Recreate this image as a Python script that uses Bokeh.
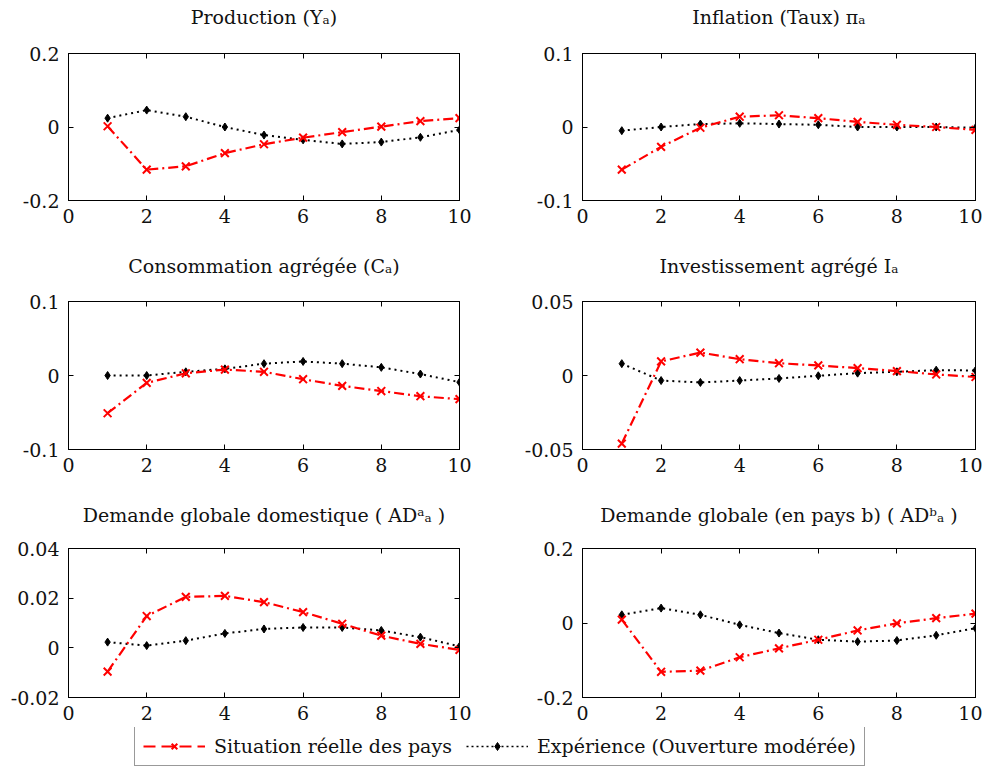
from bokeh.plotting import figure
from bokeh.models import Range1d, FixedTicker, LinearAxis, Legend, LegendItem
from bokeh.layouts import column, row
from bokeh.embed import file_html
from bokeh.resources import INLINE

# ---------------- data ----------------
periods = [1, 2, 3, 4, 5, 6, 7, 8, 9, 10]
x_ticks = [0, 2, 4, 6, 8, 10]
x_tick_labels = ["0", "2", "4", "6", "8", "10"]

series_red_name = "Situation réelle des pays"
series_black_name = "Expérience (Ouverture modérée)"

titles = [
    "Production (Yₐ)",
    "Inflation (Taux) πₐ",
    "Consommation agrégée (Cₐ)",
    "Investissement agrégé Iₐ",
    "Demande globale domestique ( ADᵃₐ )",
    "Demande globale (en pays b) ( ADᵇₐ )",
]

prod_red = [0.002, -0.116, -0.107, -0.071, -0.047, -0.029, -0.014, 0.001, 0.016, 0.024]
prod_black = [0.024, 0.046, 0.028, 0.000, -0.022, -0.035, -0.046, -0.041, -0.028, -0.008]

infl_red = [-0.058, -0.027, -0.001, 0.014, 0.016, 0.012, 0.007, 0.003, 0.000, -0.004]
infl_black = [-0.005, 0.000, 0.004, 0.005, 0.004, 0.003, 0.000, 0.000, 0.000, -0.001]

cons_red = [-0.051, -0.010, 0.003, 0.008, 0.005, -0.005, -0.014, -0.021, -0.028, -0.032]
cons_black = [0.000, 0.000, 0.005, 0.009, 0.016, 0.019, 0.016, 0.011, 0.002, -0.009]

inv_red = [-0.046, 0.0095, 0.0155, 0.011, 0.0083, 0.0068, 0.005, 0.003, 0.0007, -0.001]
inv_black = [0.008, -0.0034, -0.0047, -0.0034, -0.002, -0.0002, 0.0016, 0.0025, 0.0036, 0.0034]

add_red = [-0.0096, 0.0128, 0.0205, 0.0209, 0.0184, 0.0144, 0.0097, 0.0049, 0.0016, -0.0008]
add_black = [0.0023, 0.0009, 0.0029, 0.0058, 0.0076, 0.0082, 0.0082, 0.0070, 0.0043, 0.0006]

adb_red = [0.009, -0.131, -0.128, -0.092, -0.068, -0.045, -0.020, -0.001, 0.013, 0.025]
adb_black = [0.022, 0.040, 0.022, -0.005, -0.027, -0.045, -0.050, -0.047, -0.033, -0.014]

y_ticks = [
    [-0.2, 0, 0.2],
    [-0.1, 0, 0.1],
    [-0.1, 0, 0.1],
    [-0.05, 0, 0.05],
    [-0.02, 0, 0.02, 0.04],
    [-0.2, 0, 0.2],
]
y_tick_labels = [
    ["-0.2", "0", "0.2"],
    ["-0.1", "0", "0.1"],
    ["-0.1", "0", "0.1"],
    ["-0.05", "0", "0.05"],
    ["-0.02", "0", "0.02", "0.04"],
    ["-0.2", "0", "0.2"],
]
red_series = [prod_red, infl_red, cons_red, inv_red, add_red, adb_red]
black_series = [prod_black, infl_black, cons_black, inv_black, add_black, adb_black]

# ---------------- style ----------------
FONT = "DejaVu Serif"
FS = "19px"
RED = "#ff0000"
RED_DASH = "10 4 2 4"
BLACK_DOT = "2 4"

# column geometry: (min_border_left, frame_width, min_border_right)
cols = [(68, 391, 35), (88, 393, 7)]
# row geometry: (min_border_top, frame_height, min_border_bottom, title gap above frame)
rows_geo = [(53, 147, 50, 26), (51, 148, 48, 25), (51, 149, 30, 23)]


def style_axis(ax, ticks, labels, show_labels=True):
    ax.ticker = FixedTicker(ticks=ticks)
    ax.minor_tick_line_color = None
    ax.major_tick_in = 5
    ax.major_tick_out = 0
    ax.axis_line_color = "black"
    ax.major_tick_line_color = "black"
    ax.major_label_text_font = FONT
    if show_labels:
        ax.major_label_overrides = {t: l for t, l in zip(ticks, labels)}
        ax.major_label_text_font_size = FS
        ax.major_label_text_color = "#111111"
    else:
        ax.major_label_text_font_size = "1px"
        ax.major_label_text_color = None
        ax.major_label_standoff = 0


def make_panel(i):
    ci = i % 2
    ri = i // 2
    bl, fw, br = cols[ci]
    bt, fh, bb, gap = rows_geo[ri]
    yt = y_ticks[i]
    p = figure(
        width=bl + fw + br,
        height=bt + fh + bb,
        x_range=Range1d(0, 10),
        y_range=Range1d(yt[0], yt[-1]),
        min_border_left=bl,
        min_border_right=br,
        min_border_top=bt,
        min_border_bottom=bb,
        toolbar_location=None,
        output_backend="svg",
    )
    p.xgrid.visible = False
    p.ygrid.visible = False
    p.outline_line_color = "black"
    p.outline_line_width = 1
    p.background_fill_color = "white"
    p.border_fill_color = "white"

    style_axis(p.xaxis[0], x_ticks, x_tick_labels)
    p.xaxis[0].major_label_standoff = 8
    style_axis(p.yaxis[0], yt, y_tick_labels[i])
    p.yaxis[0].major_label_standoff = 9

    # mirrored top axis (ticks only) that also carries the panel title
    top_ax = LinearAxis()
    style_axis(top_ax, x_ticks, x_tick_labels, show_labels=False)
    top_ax.axis_label = titles[i]
    top_ax.axis_label_text_font = FONT
    top_ax.axis_label_text_font_size = FS
    top_ax.axis_label_text_font_style = "normal"
    top_ax.axis_label_text_color = "#111111"
    top_ax.axis_label_standoff = gap
    p.add_layout(top_ax, "above")
    right_ax = LinearAxis()
    style_axis(right_ax, yt, y_tick_labels[i], show_labels=False)
    p.add_layout(right_ax, "right")

    p.line(periods, black_series[i], line_color="black", line_width=2, line_dash=BLACK_DOT)
    p.scatter(periods, black_series[i], marker="diamond", size=8, fill_color="black", line_color="black")
    p.line(periods, red_series[i], line_color=RED, line_width=2.2, line_dash=RED_DASH)
    p.scatter(periods, red_series[i], marker="x", size=11, line_color=RED, line_width=2)
    return p


panels = [make_panel(i) for i in range(6)]

# legend strip (proxy renderers hold no visible data; only their legend icons show)
nan = float("nan")
leg = figure(
    width=988, height=44,
    x_range=Range1d(0, 1), y_range=Range1d(0, 1),
    min_border=0, min_border_left=0, min_border_right=0, min_border_top=0, min_border_bottom=0,
    toolbar_location=None, output_backend="svg",
)
leg.xaxis.visible = False
leg.yaxis.visible = False
leg.xgrid.visible = False
leg.ygrid.visible = False
leg.outline_line_color = None
r_line = leg.line([nan], [nan], line_color=RED, line_width=2, line_dash="12 6")
r_mark = leg.scatter([nan], [nan], marker="x", size=9, line_color=RED, line_width=2)
b_line = leg.line([nan], [nan], line_color="black", line_width=1.5, line_dash="2 3")
b_mark = leg.scatter([nan], [nan], marker="diamond", size=8, fill_color="black", line_color="black")
legend = Legend(
    items=[
        LegendItem(label=series_red_name, renderers=[r_line, r_mark]),
        LegendItem(label=series_black_name, renderers=[b_line, b_mark]),
    ],
    orientation="horizontal",
    location=(134, 5),
    label_text_font=FONT,
    label_text_font_size=FS,
    label_text_color="#111111",
    glyph_width=62,
    glyph_height=20,
    label_standoff=9,
    spacing=14,
    padding=8,
    margin=0,
    border_line_color="#333333",
    border_line_width=1,
    background_fill_color="white",
    background_fill_alpha=1.0,
)
leg.add_layout(legend, "center")

layout = column(
    row(panels[0], panels[1]),
    row(panels[2], panels[3]),
    row(panels[4], panels[5]),
    leg,
)

with open("out.html", "w") as f:
    f.write(file_html(layout, INLINE))
